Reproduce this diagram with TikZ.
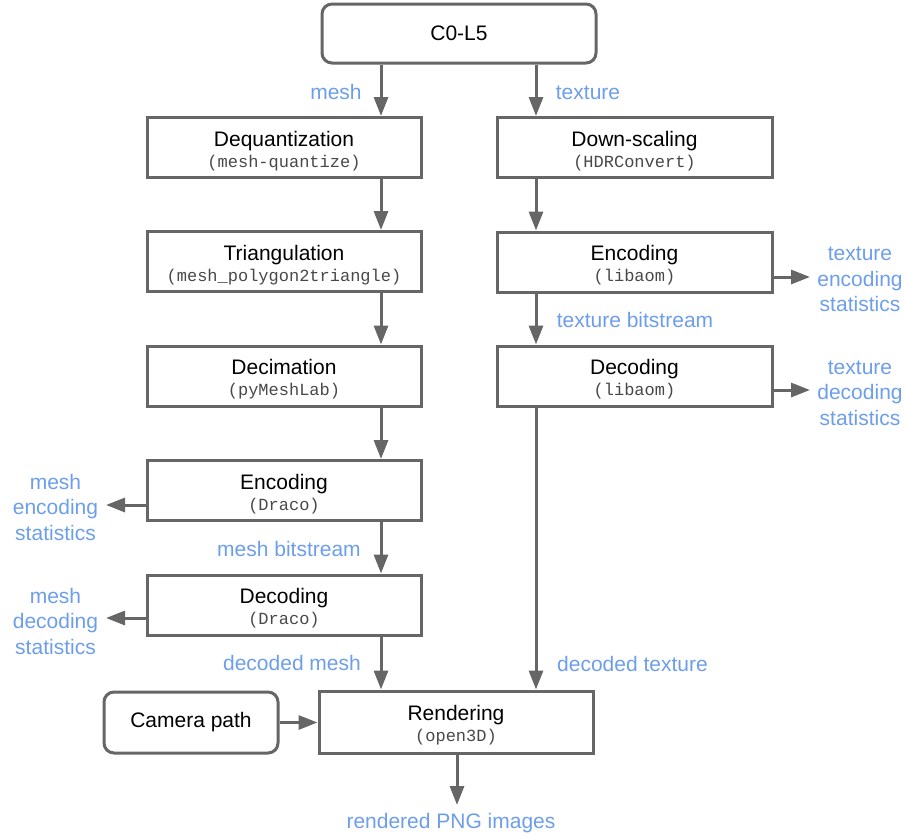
\documentclass[tikz,border=0pt]{standalone}
\usepackage{fontspec}
\setmainfont{Liberation Sans}
\newfontfamily\monof{Liberation Mono}
\usetikzlibrary{arrows.meta}
\definecolor{linegray}{HTML}{666666}
\definecolor{lblblue}{HTML}{6D9EEB}
\definecolor{codegray}{HTML}{484848}
% centred stack of lines whose baseline is that of the first line
\newcommand{\linestack}[1]{\begin{tabular}[t]{@{}c@{}}#1\end{tabular}}
% title and tool name inside a processing box
\newcommand{\boxtext}[3]{%
  \node[ttl]  (#1-t) at ([yshift=1.5pt]#1.center) {#2};
  \node[code] (#1-c) at ([yshift=-19.5pt]#1.center) {(#3)};}

\begin{document}
\begin{tikzpicture}[x=1pt,y=-1pt,
  proc/.style={draw=linegray, line width=3pt, minimum width=274pt,
               minimum height=60pt, inner sep=0pt},
  term/.style={proc, rounded corners=10pt, font=\fontsize{21}{25}\selectfont},
  ttl/.style={anchor=base, inner sep=0pt, font=\fontsize{21}{25}\selectfont},
  code/.style={anchor=base, inner sep=0pt, text=codegray,
               font=\monof\fontsize{17}{20}\selectfont},
  lbl/.style={anchor=base, inner sep=0pt, text=lblblue,
              font=\fontsize{21}{25.5}\selectfont},
  flow/.style={draw=linegray, line width=3pt,
               -{Triangle[length=19pt,width=14pt]}},
]
\useasboundingbox (0,0) rectangle (906,836);

% boxes
\node[term, minimum height=59pt] (src) at (459,33.5) {C0-L5};
\node[proc] (deq)  at (284,147.5) {};
\node[proc, minimum width=275pt] (down) at (634.5,147.5) {};
\node[proc] (tri)  at (284,261.5) {};
\node[proc, minimum width=275pt] (enct) at (634.5,262) {};
\node[proc] (deci) at (284,376) {};
\node[proc, minimum width=275pt] (dect) at (634.5,376) {};
\node[proc] (encd) at (284,490.5) {};
\node[proc] (decd) at (284,605) {};
\node[proc, minimum height=62pt] (ren)  at (456,722) {};
\node[term, minimum width=174pt, minimum height=61pt] (cam) at (191,722.5) {Camera path};

\boxtext{deq}{Dequantization}{mesh-quantize}
\boxtext{down}{Down-scaling}{HDRConvert}
\boxtext{tri}{Triangulation}{mesh\_polygon2triangle}
\boxtext{enct}{Encoding}{libaom}
\boxtext{deci}{Decimation}{pyMeshLab}
\boxtext{dect}{Decoding}{libaom}
\boxtext{encd}{Encoding}{Draco}
\boxtext{decd}{Decoding}{Draco}
\boxtext{ren}{Rendering}{open3D}

% connector columns and free ends
\coordinate (lx) at (381,0);
\coordinate (rx) at (536,0);
\coordinate (out) at (457,805);
\coordinate (etip) at (810,277);
\coordinate (dtip) at (810,390);
\coordinate (emtip) at (106,505);
\coordinate (dmtip) at (106,618);

% mesh branch
\draw[flow] (src.south -| lx) -- (deq.north -| lx);
\draw[flow] (deq.south -| lx) -- (tri.north -| lx);
\draw[flow] (tri.south -| lx) -- (deci.north -| lx);
\draw[flow] (deci.south -| lx) -- (encd.north -| lx);
\draw[flow] (encd.south -| lx) -- (decd.north -| lx);
\draw[flow] (decd.south -| lx) -- (ren.north -| lx);

% texture branch
\draw[flow] (src.south -| rx) -- (down.north -| rx);
\draw[flow] (down.south -| rx) -- (enct.north -| rx);
\draw[flow] (enct.south -| rx) -- (dect.north -| rx);
\draw[flow] (dect.south -| rx) -- (ren.north -| rx);

% statistics outputs
\draw[flow] (enct.east |- etip) -- (etip);
\draw[flow] (dect.east |- dtip) -- (dtip);
\draw[flow] (encd.west |- emtip) -- (emtip);
\draw[flow] (decd.west |- dmtip) -- (dmtip);

% rendering inputs and output
\draw[flow] (cam.east) -- (ren.west |- cam.east);
\draw[flow] (ren.south -| out) -- (out);

% labels
\node[lbl] (l-mesh) at (336,99.5) {mesh};
\node[lbl] (l-tex)  at (588,99.5) {texture};
\node[lbl] (l-tbs)  at (635,327.3) {texture bitstream};
\node[lbl] (l-mbs)  at (289,556.7) {mesh bitstream};
\node[lbl] (l-dm)   at (292,670.7) {decoded mesh};
\node[lbl] (l-dt)   at (632.5,671) {decoded texture};
\node[lbl] (l-png)  at (451,828.3) {rendered PNG images};
\node[lbl] (s-te) at (860,260.7) {\linestack{texture\\encoding\\statistics}};
\node[lbl] (s-td) at (860,374)   {\linestack{texture\\decoding\\statistics}};
\node[lbl] (s-me) at (55.5,489.3) {\linestack{mesh\\encoding\\statistics}};
\node[lbl] (s-md) at (55.5,603.3) {\linestack{mesh\\decoding\\statistics}};
\end{tikzpicture}
\end{document}
